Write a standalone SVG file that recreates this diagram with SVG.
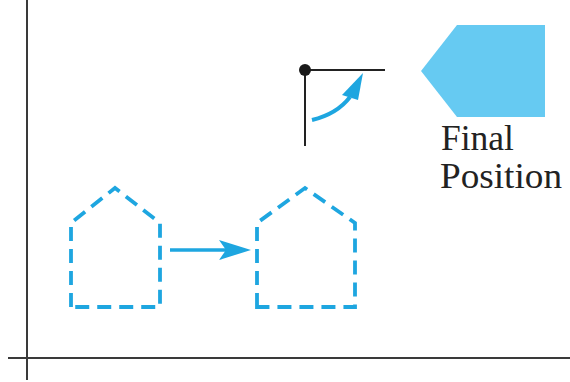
<svg xmlns="http://www.w3.org/2000/svg" width="570" height="382" viewBox="0 0 570 382">
<style>
.axis{stroke:#3a3a3a;stroke-width:2;fill:none}
.house{fill:none;stroke:#1ea6e0;stroke-width:3.8;stroke-dasharray:14 8;stroke-linejoin:miter}
.blk{stroke:#222;stroke-width:2;fill:none}
.lbl{font-family:"Liberation Serif","Times New Roman",serif;font-size:36px;fill:#222}
</style>
<rect width="570" height="382" fill="#fff"/>
<g id="axes">
<line class="axis" x1="27" y1="0" x2="27" y2="380"/>
<line class="axis" x1="8" y1="358" x2="570" y2="358"/>
</g>
<g id="house-start">
<path class="house" d="M71,307 L71,223 L115,188 L160,223 L160,307 Z"/>
</g>
<g id="house-translated">
<path class="house" d="M257,307 L257,223 L305,188 L355,223 L355,307 Z"/>
</g>
<g id="pivot">
<line class="blk" x1="305" y1="70" x2="385" y2="70"/>
<line class="blk" x1="305" y1="70" x2="305" y2="146"/>
<circle cx="305" cy="70" r="6" fill="#1a1a1a"/>
</g>
<g id="final-position">
<polygon points="421,71 457,25 545,25 545,117 457,117" fill="#66caf2"/>
<text class="lbl" x="441" y="150" textLength="73" lengthAdjust="spacingAndGlyphs">Final</text>
<text class="lbl" x="440" y="188" textLength="122" lengthAdjust="spacingAndGlyphs">Position</text>
</g>
<g id="connectors">
<line x1="170" y1="250" x2="236" y2="250" stroke="#1ea6e0" stroke-width="3.5"/>
<polygon points="251,250 219,240 226,250 219,260" fill="#1ea6e0"/>
<path d="M312,120 Q337,114 350,97" fill="none" stroke="#1ea6e0" stroke-width="4"/>
<polygon points="363,73 342,95 358,100" fill="#1ea6e0"/>
</g>
</svg>
